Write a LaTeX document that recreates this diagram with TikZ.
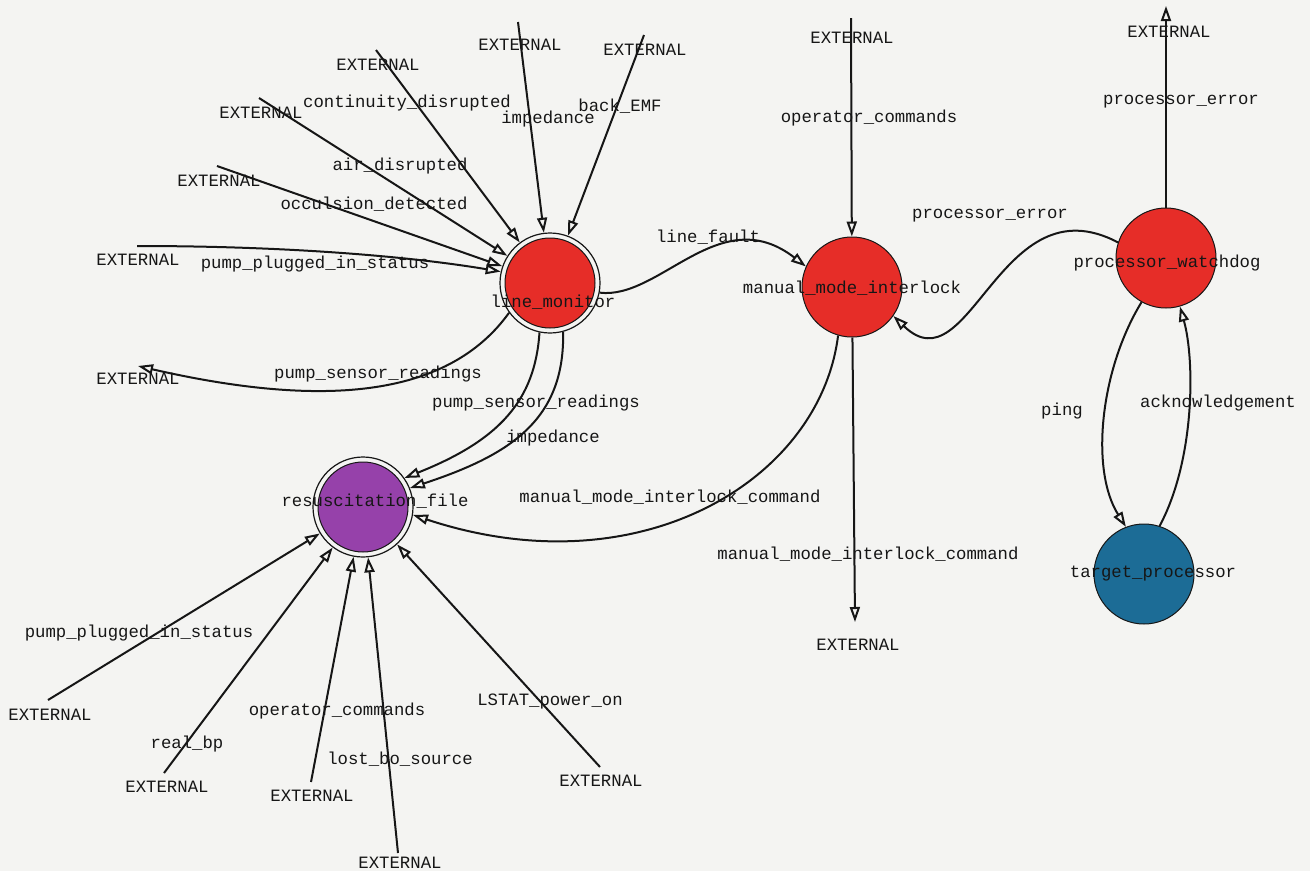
\documentclass[tikz,border=0pt]{standalone}
\usepackage{fontspec}
\setmonofont{Liberation Mono}
\usetikzlibrary{arrows.meta}
\definecolor{bg}{RGB}{244,244,242}
\definecolor{nred}{RGB}{230,45,40}
\definecolor{npurple}{RGB}{150,65,170}
\definecolor{nblue}{RGB}{28,108,150}
\definecolor{ink}{RGB}{22,22,22}
\begin{document}
\begin{tikzpicture}[x=1pt,y=-1pt,
  lbl/.style={font=\ttfamily\fontsize{17.3}{20}\selectfont, inner sep=0pt, anchor=base, text=ink},
  arr/.style={draw=ink, line width=2pt, -{Triangle[open,length=15pt,width=10pt]}},
  proc/.style={circle, draw=ink, line width=1pt, minimum size=100pt, inner sep=0pt, fill=#1},
  store/.style={circle, draw=ink, line width=1.2pt, minimum size=100pt, inner sep=0pt,
    path picture={\draw[fill=#1, draw=ink, line width=1pt] (path picture bounding box.center) circle (45pt);}},
]
\useasboundingbox (0,0) rectangle (1310,871);
\fill[bg] (0,0) rectangle (1310,871);

% nodes
\node[store=nred] (lm) at (550,283) {};
\node[store=npurple] (rf) at (363,507) {};
\node[proc=nred] (mmi) at (852,287) {};
\node[proc=nred] (pw) at (1166,258) {};
\node[proc=nblue] (tp) at (1144,574) {};

% free ends
\coordinate (e1) at (376,50);
\coordinate (e2) at (259,98);
\coordinate (e3) at (217,166);
\coordinate (e4) at (137,246);
\coordinate (e5) at (518,22);
\coordinate (e6) at (644,35);
\coordinate (e7) at (138,366);
\coordinate (e8) at (851,18);
\coordinate (e9) at (855,622);
\coordinate (e10) at (1166,6);
\coordinate (e11) at (48,700);
\coordinate (e12) at (164,773);
\coordinate (e13) at (311,782);
\coordinate (e14) at (398,853);
\coordinate (e15) at (600,767);

% straight connectors
\draw[arr] (e1) -- (lm);
\draw[arr] (e2) -- (lm);
\draw[arr] (e3) -- (lm);
\draw[arr] (e5) -- (lm);
\draw[arr] (e6) -- (lm);
\draw[arr] (e8) -- (mmi);
\draw[arr] (mmi) -- (e9);
\draw[arr] (pw) -- (e10);
\draw[arr] (e11) -- (rf);
\draw[arr] (e12) -- (rf);
\draw[arr] (e13) -- (rf);
\draw[arr] (e14) -- (rf);
\draw[arr] (e15) -- (rf);

% curved connectors
\draw[arr] (e4) .. controls (300,246) and (420,258) .. (lm.167);
\draw[arr] (lm.-144) .. controls (450,395) and (330,410) .. (e7);
\draw[arr] (lm.-102) .. controls (535,400) and (500,440) .. (rf.35);
\draw[arr] (lm.-75) .. controls (565,420) and (510,455) .. (rf.22);
\draw[arr] (lm.-11) .. controls (660,300) and (720,200) .. (mmi.156);
\draw[arr] (pw.162) .. controls (1000,180) and (970,390) .. (mmi.-35);
\draw[arr] (mmi.-106) .. controls (820,480) and (640,590) .. (rf.-9);
\draw[arr] (pw.-119) .. controls (1100,370) and (1090,470) .. (tp.111);
\draw[arr] (tp.72) .. controls (1195,460) and (1195,360) .. (pw.-74);

% node labels
\node[lbl] (tlm) at (553,307) {line\_monitor};
\node[lbl] (trf) at (375,506) {resuscitation\_file};
\node[lbl] (tmmi) at (852,293) {manual\_mode\_interlock};
\node[lbl] (tpw) at (1167,267) {processor\_watchdog};
\node[lbl] (ttp) at (1153,577) {target\_processor};

% EXTERNAL labels
\node[lbl] (x1) at (520,50) {EXTERNAL};
\node[lbl] (x2) at (645,55) {EXTERNAL};
\node[lbl] (x3) at (378,70) {EXTERNAL};
\node[lbl] (x4) at (261,118) {EXTERNAL};
\node[lbl] (x5) at (219,186) {EXTERNAL};
\node[lbl] (x6) at (138,265) {EXTERNAL};
\node[lbl] (x7) at (138,384) {EXTERNAL};
\node[lbl] (x8) at (852,43) {EXTERNAL};
\node[lbl] (x9) at (1169,37) {EXTERNAL};
\node[lbl] (x10) at (858,650) {EXTERNAL};
\node[lbl] (x11) at (50,720) {EXTERNAL};
\node[lbl] (x12) at (167,792) {EXTERNAL};
\node[lbl] (x13) at (312,801) {EXTERNAL};
\node[lbl] (x14) at (400,868) {EXTERNAL};
\node[lbl] (x15) at (601,786) {EXTERNAL};

% edge labels
\node[lbl] (l1) at (407,107) {continuity\_disrupted};
\node[lbl] (l2) at (548,123) {impedance};
\node[lbl] (l3) at (620,111) {back\_EMF};
\node[lbl] (l4) at (400,170) {air\_disrupted};
\node[lbl] (l5) at (374,209) {occulsion\_detected};
\node[lbl] (l6) at (315,268) {pump\_plugged\_in\_status};
\node[lbl] (l7) at (378,378) {pump\_sensor\_readings};
\node[lbl] (l8) at (536,407) {pump\_sensor\_readings};
\node[lbl] (l9) at (553,442) {impedance};
\node[lbl] (l10) at (708,242) {line\_fault};
\node[lbl] (l11) at (869,122) {operator\_commands};
\node[lbl] (l12) at (1181,104) {processor\_error};
\node[lbl] (l13) at (990,218) {processor\_error};
\node[lbl] (l14) at (670,502) {manual\_mode\_interlock\_command};
\node[lbl] (l15) at (868,559) {manual\_mode\_interlock\_command};
\node[lbl] (l16) at (1062,415) {ping};
\node[lbl] (l17) at (1218,407) {acknowledgement};
\node[lbl] (l18) at (139,637) {pump\_plugged\_in\_status};
\node[lbl] (l19) at (187,748) {real\_bp};
\node[lbl] (l20) at (337,715) {operator\_commands};
\node[lbl] (l21) at (400,764) {lost\_bo\_source};
\node[lbl] (l22) at (550,705) {LSTAT\_power\_on};
\end{tikzpicture}
\end{document}
